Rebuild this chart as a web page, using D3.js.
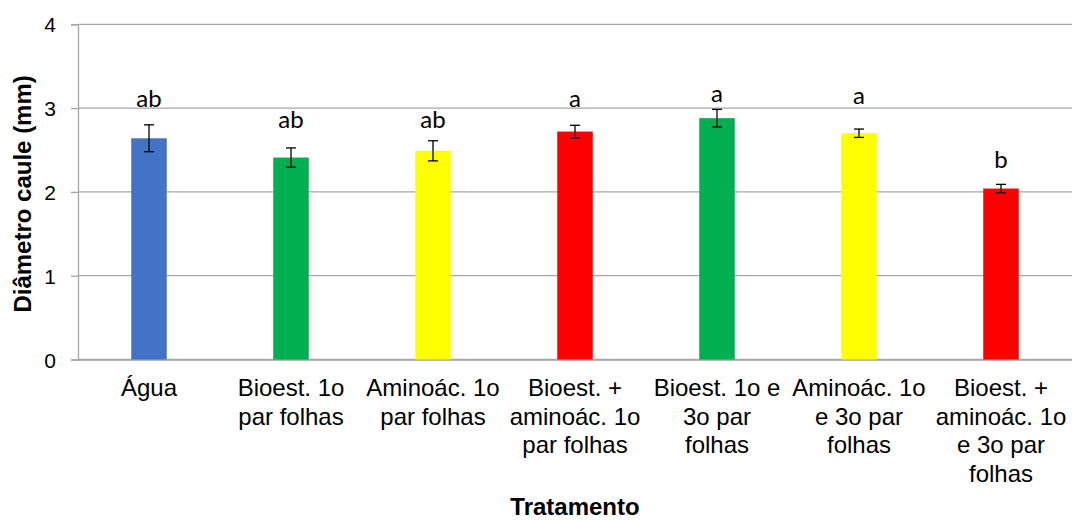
<!DOCTYPE html>
<html>
<head>
<meta charset="utf-8">
<script src="https://cdn.jsdelivr.net/npm/d3@7"></script>
<style>
  html, body { margin: 0; padding: 0; background: #fff; }
  svg { display: block; }
</style>
</head>
<body>
<svg id="chart" width="1072" height="521"></svg>
<script>
// ---- data ----
const categories = [
  ["Água"],
  ["Bioest. 1o", "par folhas"],
  ["Aminoác. 1o", "par folhas"],
  ["Bioest. +", "aminoác. 1o", "par folhas"],
  ["Bioest. 1o e", "3o par", "folhas"],
  ["Aminoác. 1o", "e 3o par", "folhas"],
  ["Bioest. +", "aminoác. 1o", "e 3o par", "folhas"]
];
const means = [2.64, 2.41, 2.49, 2.72, 2.88, 2.70, 2.04];
const errors = [0.16, 0.115, 0.12, 0.075, 0.105, 0.05, 0.05];
const letters = ["ab", "ab", "ab", "a", "a", "a", "b"];
const letterLevel = [3.016, 2.76, 2.766, 3.016, 3.076, 3.05, 2.28];
const barColors = ["#4472C4", "#00B050", "#FFFF00", "#FF0000", "#00B050", "#FFFF00", "#FF0000"];
const yTicks = [0, 1, 2, 3, 4];
const yTitle = "Diâmetro caule (mm)";
const xTitle = "Tratamento";

// ---- layout ----
(function () {
const svg = d3.select("#chart");
const pLeft = 78, pRight = 1072, pTop = 24.3, pBottom = 359.5;

const x = d3.scaleBand()
  .domain(d3.range(categories.length))
  .range([pLeft, pRight])
  .paddingInner(0.75)
  .paddingOuter(0.375);
const y = d3.scaleLinear().domain([0, 4]).range([pBottom, pTop]);

// gridlines
svg.append("g")
  .selectAll("line")
  .data(yTicks)
  .join("line")
  .attr("x1", pLeft).attr("x2", pRight)
  .attr("y1", d => y(d)).attr("y2", d => y(d))
  .attr("stroke", "#a6a6a6").attr("stroke-width", 1.3);

// y axis
const yAxis = d3.axisLeft(y).tickValues(yTicks).tickFormat(d3.format("d")).tickSize(7).tickPadding(15);
const gy = svg.append("g").attr("transform", `translate(${pLeft},0)`).call(yAxis);
gy.select(".domain").attr("stroke", "#a6a6a6").attr("stroke-width", 1.3);
gy.selectAll(".tick line").attr("stroke", "#a6a6a6").attr("stroke-width", 1.3);
gy.selectAll(".tick text")
  .attr("font-family", "Liberation Sans, Arial, sans-serif")
  .attr("font-size", 21).attr("fill", "#000")
  .attr("dy", "0.36em");

// x axis baseline
const xAxis = d3.axisBottom(x).tickSize(0).tickFormat("");
const gx = svg.append("g").attr("transform", `translate(0,${pBottom})`).call(xAxis);
gx.select(".domain").attr("stroke", "#a6a6a6").attr("stroke-width", 1.3);

// category labels
const catG = svg.append("g")
  .attr("font-family", "Liberation Sans, Arial, sans-serif")
  .attr("font-size", 24).attr("fill", "#000").attr("text-anchor", "middle");
categories.forEach((lines, i) => {
  const t = catG.append("text").attr("x", x(i) + x.bandwidth() / 2).attr("y", 396);
  lines.forEach((ln, j) => {
    t.append("tspan").attr("x", x(i) + x.bandwidth() / 2).attr("y", 396 + j * 28.7).text(ln);
  });
});

// bars
svg.append("g")
  .selectAll("rect")
  .data(means)
  .join("rect")
  .attr("x", (d, i) => x(i))
  .attr("width", x.bandwidth())
  .attr("y", d => y(d))
  .attr("height", d => y(0) - y(d))
  .attr("fill", (d, i) => barColors[i]);

// error bars
const eg = svg.append("g").attr("stroke", "#000").attr("stroke-width", 1.3);
means.forEach((m, i) => {
  const cx = x(i) + x.bandwidth() / 2;
  const hi = y(m + errors[i]), lo = y(m - errors[i]);
  eg.append("line").attr("x1", cx).attr("x2", cx).attr("y1", hi).attr("y2", lo);
  eg.append("line").attr("x1", cx - 5).attr("x2", cx + 5).attr("y1", hi).attr("y2", hi);
  eg.append("line").attr("x1", cx - 5).attr("x2", cx + 5).attr("y1", lo).attr("y2", lo);
});

// letters
svg.append("g")
  .attr("font-family", "Lato, 'Open Sans', sans-serif")
  .attr("font-size", 24).attr("fill", "#000").attr("text-anchor", "middle")
  .selectAll("text")
  .data(letters)
  .join("text")
  .attr("x", (d, i) => x(i) + x.bandwidth() / 2)
  .attr("y", (d, i) => y(letterLevel[i]))
  .text(d => d);

// axis titles
svg.append("text")
  .attr("transform", `translate(31,${(pTop + pBottom) / 2 + 2}) rotate(-90)`)
  .attr("text-anchor", "middle")
  .attr("font-family", "Liberation Sans, Arial, sans-serif")
  .attr("font-size", 24).attr("font-weight", "bold")
  .text(yTitle);

svg.append("text")
  .attr("x", (pLeft + pRight) / 2)
  .attr("y", 515)
  .attr("text-anchor", "middle")
  .attr("font-family", "Liberation Sans, Arial, sans-serif")
  .attr("font-size", 24).attr("font-weight", "bold")
  .text(xTitle);
})();
</script>
</body>
</html>
